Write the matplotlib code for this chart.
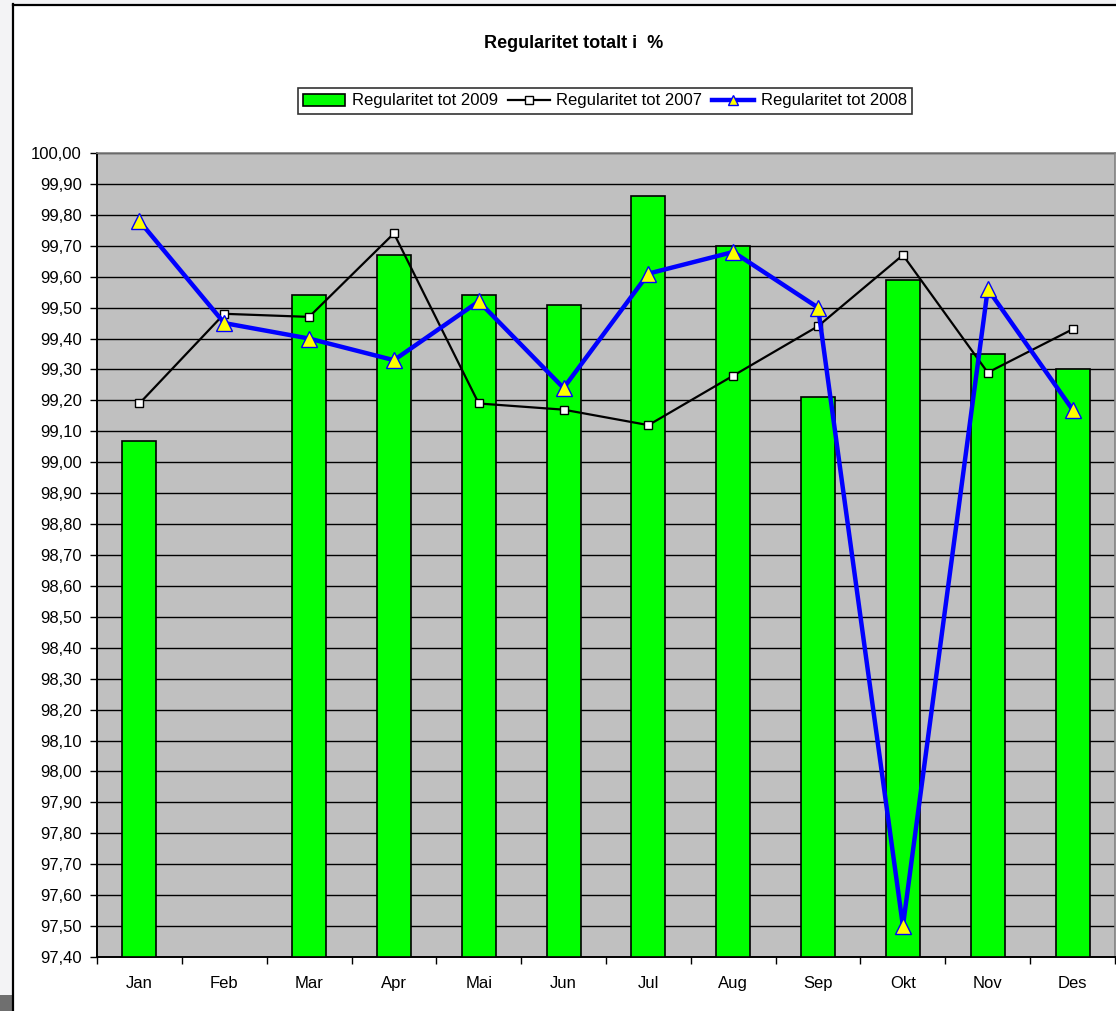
import matplotlib
matplotlib.use("Agg")
import numpy as np
import matplotlib.pyplot as plt
from matplotlib.patches import Rectangle
from matplotlib.lines import Line2D

plt.rcParams['font.family'] = ['Liberation Sans', 'DejaVu Sans']

months = ["Jan", "Feb", "Mar", "Apr", "Mai", "Jun", "Jul", "Aug", "Sep", "Okt", "Nov", "Des"]
reg_2009 = [99.07, np.nan, 99.54, 99.67, 99.54, 99.51, 99.86, 99.70, 99.21, 99.59, 99.35, 99.30]
reg_2007 = [99.19, 99.48, 99.47, 99.74, 99.19, 99.17, 99.12, 99.28, 99.44, 99.67, 99.29, 99.43]
reg_2008 = [99.78, 99.45, 99.40, 99.33, 99.52, 99.24, 99.61, 99.68, 99.50, 97.50, 99.56, 99.17]
y_min, y_max = 97.40, 100.00

W, H = 1116, 1011
fig = plt.figure(figsize=(W / 100, H / 100), dpi=100, facecolor="white")

# ---- screenshot surroundings ----
fig.patches.append(Rectangle((0, 0), 12 / W, 1, transform=fig.transFigure,
                             facecolor="#f3f3f5", edgecolor="none", zorder=0))
fig.patches.append(Rectangle((0, 1 - 4 / H), 1, 4 / H, transform=fig.transFigure,
                             facecolor="#f3f3f5", edgecolor="none", zorder=0))
fig.patches.append(Rectangle((0, 0), 12 / W, 16 / H, transform=fig.transFigure,
                             facecolor="#6f6f6f", edgecolor="none", zorder=1))
fig.lines.append(Line2D([12.5 / W, 12.5 / W], [0, 1 - 4 / H], transform=fig.transFigure,
                        color="black", linewidth=1.6))
fig.lines.append(Line2D([12.5 / W, 1], [1 - 4.5 / H, 1 - 4.5 / H], transform=fig.transFigure,
                        color="black", linewidth=1.6))

# ---- plot area ----
ax = fig.add_axes([97 / W, (H - 957) / H, 1018 / W, 804 / H])
ax.set_facecolor("#c0c0c0")
x = np.arange(len(months))

heights = [v - y_min for v in reg_2009]
bars = ax.bar(x, heights, bottom=y_min, width=0.40, color="#00ff00", edgecolor="black",
              linewidth=1.2, zorder=3, label="Regularitet tot 2009")
l07, = ax.plot(x, reg_2007, color="black", linewidth=1.6, marker="s", markersize=6,
               markerfacecolor="white", markeredgecolor="black", markeredgewidth=1.0,
               zorder=4, label="Regularitet tot 2007")
l08, = ax.plot(x, reg_2008, color="#0000ff", linewidth=3.2, marker="^", markersize=11,
               markerfacecolor="#ffff00", markeredgecolor="#0000ff", markeredgewidth=1.0,
               zorder=5, label="Regularitet tot 2008")

ax.set_xlim(-0.5, len(months) - 0.5)
ax.set_ylim(y_min, y_max)

yt = np.round(np.arange(y_min, y_max + 0.001, 0.1), 2)
ax.set_yticks(yt)
ax.set_yticklabels([f"{v:.2f}".replace(".", ",") for v in yt])
ax.yaxis.grid(True, color="black", linewidth=1.0, zorder=1)
ax.set_axisbelow(True)

ax.set_xticks(np.arange(-0.5, len(months), 1.0))
ax.set_xticklabels([])
ax.set_xticks(x, minor=True)
ax.set_xticklabels(months, minor=True)
ax.tick_params(axis="x", which="major", length=5, width=1.0, direction="out")
ax.tick_params(axis="x", which="minor", length=0, pad=14, labelsize=12)
ax.tick_params(axis="y", length=5, width=1.0, direction="out", pad=6, labelsize=12)

for side in ["top", "right"]:
    ax.spines[side].set_color("#808080")
    ax.spines[side].set_linewidth(1.2)
for side in ["left", "bottom"]:
    ax.spines[side].set_color("black")
    ax.spines[side].set_linewidth(1.4)

fig.text(574 / W, 1 - 43 / H, "Regularitet totalt i  %", ha="center", va="center",
         fontsize=13, fontweight="bold")

leg = fig.legend(handles=[bars, l07, l08], loc="center",
                 bbox_to_anchor=(605 / W, 1 - 101 / H), ncol=3,
                 frameon=True, fancybox=False, edgecolor="black", fontsize=12,
                 handlelength=2.5, handletextpad=0.4, columnspacing=0.6,
                 borderpad=0.35, borderaxespad=0)
leg.get_frame().set_linewidth(1.2)
# smaller markers in the legend, like the original
leg.legend_handles[1].set_markersize(6)
leg.legend_handles[2].set_markersize(7)

fig.savefig("out.png", dpi=100, facecolor=fig.get_facecolor())
